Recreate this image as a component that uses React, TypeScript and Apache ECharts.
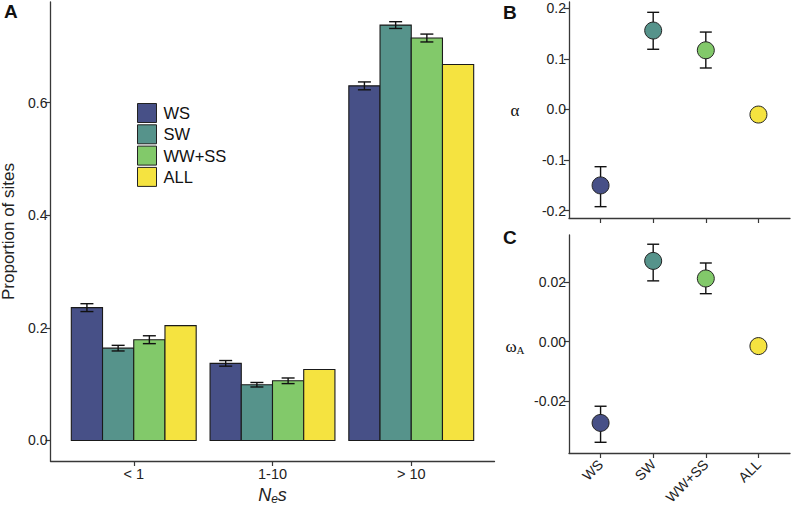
import React, { useEffect, useRef } from "react";
import * as echarts from "echarts";

const categoriesA = ["< 1", "1-10", "> 10"];
const groups = ["WS", "SW", "WW+SS", "ALL"];
const groupColors = ["#475087", "#56938b", "#82c96a", "#f5e340"];

const propWS = [0.236, 0.137, 0.63];
const propSW = [0.164, 0.099, 0.738];
const propWWSS = [0.179, 0.106, 0.715];
const propALL = [0.204, 0.126, 0.668];
const errWS = [0.007, 0.005, 0.007];
const errSW = [0.005, 0.004, 0.006];
const errWWSS = [0.007, 0.005, 0.007];

const alphaVal = [-0.15, 0.156, 0.117, -0.01];
const alphaLo = [-0.192, 0.119, 0.082];
const alphaHi = [-0.113, 0.192, 0.153];
const omegaVal = [-0.0273, 0.0271, 0.0212, -0.0015];
const omegaLo = [-0.0338, 0.0204, 0.0161];
const omegaHi = [-0.0217, 0.0327, 0.0264];

const ticksA = [0, 0.2, 0.4, 0.6];
const ticksB = [-0.2, -0.1, 0, 0.1, 0.2];
const ticksC = [-0.02, 0, 0.02];

const FONT = "'Liberation Sans', Arial, sans-serif";
const AXIS_COLOR = "#383838";
const TEXT_COLOR = "#222";

export default function App() {
  const ref = useRef<HTMLDivElement>(null);
  useEffect(() => {
    if (!ref.current) return;
    const chart = echarts.init(ref.current, null, { renderer: "svg" });

    const propSeries = [propWS, propSW, propWWSS, propALL];
    const errSeries = [errWS, errSW, errWWSS];
    const barW = 0.225;

    const barSeries = groups.map((g, s) => ({
      type: "custom",
      name: g,
      xAxisIndex: 0,
      yAxisIndex: 0,
      itemStyle: { color: groupColors[s], borderColor: "#1a1a1a", borderWidth: 1 },
      encode: { x: 0, y: 1 },
      data: propSeries[s].map((v, i) => [i, v]),
      renderItem: (params: any, api: any) => {
        const x = api.value(0) + (s - 1.5) * barW;
        const v = api.value(1);
        const p0 = api.coord([x - barW / 2, v]);
        const p1 = api.coord([x + barW / 2, 0]);
        return {
          type: "rect",
          shape: { x: p0[0], y: p0[1], width: p1[0] - p0[0], height: p1[1] - p0[1] },
          style: { fill: groupColors[s], stroke: "#1a1a1a", lineWidth: 1.1 },
        };
      },
      z: 2,
    }));

    const errBarSeries = errSeries.map((errs, s) => ({
      type: "custom",
      name: groups[s] + " err",
      xAxisIndex: 0,
      yAxisIndex: 0,
      encode: { x: 0, y: [1, 2] },
      data: errs.map((e, i) => [i, propSeries[s][i] - e, propSeries[s][i] + e]),
      renderItem: (params: any, api: any) => {
        const x = api.value(0) + (s - 1.5) * barW;
        const lo = api.coord([x, api.value(1)]);
        const hi = api.coord([x, api.value(2)]);
        const hw = 6.5;
        const st = { stroke: "#111", lineWidth: 1.4 };
        return {
          type: "group",
          children: [
            { type: "line", shape: { x1: lo[0], y1: lo[1], x2: hi[0], y2: hi[1] }, style: st },
            { type: "line", shape: { x1: lo[0] - hw, y1: lo[1], x2: lo[0] + hw, y2: lo[1] }, style: st },
            { type: "line", shape: { x1: hi[0] - hw, y1: hi[1], x2: hi[0] + hw, y2: hi[1] }, style: st },
          ],
        };
      },
      z: 3,
    }));

    const pointErr = (lo: number[], hi: number[], ax: number) => ({
      type: "custom",
      name: "err" + ax,
      xAxisIndex: ax,
      yAxisIndex: ax,
      encode: { x: 0, y: [1, 2] },
      data: lo.map((l, i) => [i, l, hi[i]]),
      renderItem: (params: any, api: any) => {
        const x = api.value(0);
        const a = api.coord([x, api.value(1)]);
        const b = api.coord([x, api.value(2)]);
        const hw = 6;
        const st = { stroke: "#111", lineWidth: 1.4 };
        return {
          type: "group",
          children: [
            { type: "line", shape: { x1: a[0], y1: a[1], x2: b[0], y2: b[1] }, style: st },
            { type: "line", shape: { x1: a[0] - hw, y1: a[1], x2: a[0] + hw, y2: a[1] }, style: st },
            { type: "line", shape: { x1: b[0] - hw, y1: b[1], x2: b[0] + hw, y2: b[1] }, style: st },
          ],
        };
      },
      z: 2,
    });

    const points = (vals: number[], ax: number) => ({
      type: "scatter",
      name: "pts" + ax,
      xAxisIndex: ax,
      yAxisIndex: ax,
      symbolSize: 17,
      data: vals.map((v, i) => ({
        value: [i, v],
        itemStyle: { color: groupColors[i], borderColor: "#222", borderWidth: 1, opacity: 1 },
      })),
      z: 3,
    });

    const baseAxis = {
      axisLine: { show: true, onZero: false, lineStyle: { color: AXIS_COLOR, width: 1.3 } },
      axisTick: { show: true, length: 5, lineStyle: { color: AXIS_COLOR, width: 1.2 } },
      splitLine: { show: false },
      axisLabel: { color: TEXT_COLOR, fontSize: 14, fontFamily: FONT, margin: 3 },
    };

    const gridBase = { containLabel: false, outerBoundsMode: "none" };

    const option: any = {
      animation: false,
      tooltip: { show: false },
      textStyle: { fontFamily: FONT },
      legend: {
        orient: "vertical",
        left: 137,
        top: 103,
        padding: 0,
        itemWidth: 19,
        itemHeight: 19,
        itemGap: 1.3,
        icon: "rect",
        data: groups,
        itemStyle: { borderColor: "#222", borderWidth: 1 },
        textStyle: { fontSize: 16.5, color: "#111", fontFamily: FONT, padding: [0, 0, 0, 2] },
        selectedMode: false,
      },
      grid: [
        { ...gridBase, left: 50.5, top: 2, width: 444, height: 459 },
        { ...gridBase, left: 569, top: 2, width: 221, height: 216 },
        { ...gridBase, left: 569, top: 235, width: 221, height: 218 },
      ],
      xAxis: [
        {
          ...baseAxis,
          type: "value",
          gridIndex: 0,
          min: -0.6,
          max: 2.6,
          axisTick: { ...baseAxis.axisTick, customValues: [0, 1, 2] },
          axisLabel: {
            ...baseAxis.axisLabel,
            fontSize: 14.5,
            margin: 5,
            customValues: [0, 1, 2],
            formatter: (v: number) => categoriesA[Math.round(v)] ?? "",
          },
          name: "{i|N}{s|e}{i|s}",
          nameLocation: "middle",
          nameGap: 21,
          nameTextStyle: {
            rich: {
              i: { fontSize: 18, lineHeight: 20, fontStyle: "italic", fontFamily: FONT, color: TEXT_COLOR },
              s: { fontSize: 12, lineHeight: 20, verticalAlign: "bottom", fontStyle: "italic", fontFamily: FONT, color: TEXT_COLOR },
            },
          },
        },
        {
          ...baseAxis,
          type: "value",
          gridIndex: 1,
          min: -0.6,
          max: 3.6,
          axisTick: { ...baseAxis.axisTick, customValues: [0, 1, 2, 3] },
          axisLabel: { show: false },
        },
        {
          ...baseAxis,
          type: "value",
          gridIndex: 2,
          min: -0.6,
          max: 3.6,
          axisTick: { ...baseAxis.axisTick, customValues: [0, 1, 2, 3] },
          axisLabel: {
            ...baseAxis.axisLabel,
            fontSize: 14,
            rotate: 45,
            margin: 9,
            customValues: [0, 1, 2, 3],
            formatter: (v: number) => groups[Math.round(v)] ?? "",
          },
        },
      ],
      yAxis: [
        {
          ...baseAxis,
          type: "value",
          gridIndex: 0,
          min: -0.0365,
          max: 0.779,
          axisTick: { ...baseAxis.axisTick, customValues: ticksA },
          axisLabel: {
            ...baseAxis.axisLabel,
            customValues: ticksA,
            formatter: (v: number) => v.toFixed(1),
          },
          name: "Proportion of sites",
          nameLocation: "middle",
          nameGap: 32,
          nameTextStyle: { fontSize: 17, color: TEXT_COLOR, fontFamily: FONT },
        },
        {
          ...baseAxis,
          type: "value",
          gridIndex: 1,
          min: -0.2144,
          max: 0.2124,
          axisTick: { ...baseAxis.axisTick, customValues: ticksB },
          axisLabel: {
            ...baseAxis.axisLabel,
            customValues: ticksB,
            formatter: (v: number) => v.toFixed(1),
          },
        },
        {
          ...baseAxis,
          type: "value",
          gridIndex: 2,
          min: -0.0374,
          max: 0.0358,
          axisTick: { ...baseAxis.axisTick, customValues: ticksC },
          axisLabel: {
            ...baseAxis.axisLabel,
            customValues: ticksC,
            formatter: (v: number) => v.toFixed(2),
          },
        },
      ],
      series: [
        ...barSeries,
        ...errBarSeries,
        pointErr(alphaLo, alphaHi, 1),
        points(alphaVal, 1),
        pointErr(omegaLo, omegaHi, 2),
        points(omegaVal, 2),
      ],
      graphic: [
        { type: "text", left: 4, top: 2, style: { text: "A", fontSize: 19, fontWeight: "bold", fill: "#111", fontFamily: FONT } },
        { type: "text", left: 503, top: 3, style: { text: "B", fontSize: 19, fontWeight: "bold", fill: "#111", fontFamily: FONT } },
        { type: "text", left: 503, top: 228, style: { text: "C", fontSize: 19, fontWeight: "bold", fill: "#111", fontFamily: FONT } },
        {
          type: "text",
          x: 515,
          y: 110,
          style: { text: "α", fontSize: 17, fill: "#111", fontFamily: "'Liberation Serif', serif", align: "center", verticalAlign: "middle" },
        },
        {
          type: "text",
          x: 515,
          y: 346,
          style: {
            text: "{w|ω}{a|A}",
            align: "center",
            verticalAlign: "middle",
            rich: {
              w: { fontSize: 17, lineHeight: 18, fill: "#111", fontFamily: "'Liberation Serif', serif" },
              a: { fontSize: 11, lineHeight: 18, verticalAlign: "bottom", fill: "#111", fontFamily: "'Liberation Serif', serif" },
            },
          },
        },
      ],
    };

    chart.setOption(option);
    return () => chart.dispose();
  }, []);

  return <div ref={ref} style={{ width: 792, height: 505, position: "absolute", left: 0, top: 0 }} />;
}
